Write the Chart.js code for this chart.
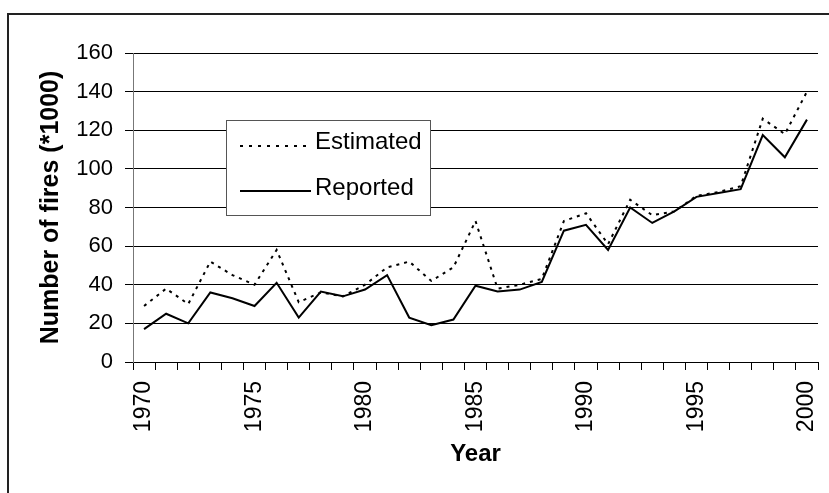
<!DOCTYPE html>
<html>
<head>
<meta charset="utf-8">
<script src="https://cdn.jsdelivr.net/npm/chart.js@4.4.1/dist/chart.umd.min.js"></script>
<style>
  body { margin: 0; background: #fff; }
  #wrap { position: relative; width: 829px; height: 493px; }
</style>
</head>
<body>
<div id="wrap"><canvas id="fireChart"></canvas></div>
<script>
const years = ['1970', '1971', '1972', '1973', '1974', '1975', '1976', '1977', '1978', '1979',
               '1980', '1981', '1982', '1983', '1984', '1985', '1986', '1987', '1988', '1989',
               '1990', '1991', '1992', '1993', '1994', '1995', '1996', '1997', '1998', '1999', '2000'];
const estimated = [29, 38, 30, 52, 45, 40, 58, 31, 36, 34, 40, 49, 52, 42, 49, 73, 38, 40, 43, 73,
                   77, 61, 84, 76, 78, 86, 88, 91, 126, 118, 140];
const reported = [17, 25, 20, 36, 33, 29, 41, 23, 36.5, 34, 37.5, 45, 23, 19, 22, 39.5, 36.5, 37.5, 41.5, 68,
                  71, 58, 80, 72, 78, 85.5, 87.5, 89.5, 117.5, 106, 125.5];
const shownYears = ['1970', '1975', '1980', '1985', '1990', '1995', '2000'];

const FONT = 'Liberation Sans, Arial, sans-serif';

// outer frame + legend box drawn on the canvas
const framePlugin = {
    id: 'frame',
    afterDraw(chart) {
        const c = chart.ctx;
        c.save();
        c.strokeStyle = '#222';
        c.lineWidth = 2;
        c.strokeRect(8, 14, 1000, 1000);

        // legend
        const x0 = 226, y0 = 120, w = 204, h = 95;
        c.fillStyle = '#fff';
        c.fillRect(x0, y0, w, h);
        c.strokeStyle = '#555';
        c.lineWidth = 1;
        c.strokeRect(x0 + 0.5, y0 + 0.5, w, h);

        c.strokeStyle = '#000';
        c.lineWidth = 2;
        c.setLineDash([3, 6]);
        c.beginPath(); c.moveTo(240, 146); c.lineTo(311, 146); c.stroke();
        c.setLineDash([]);
        c.beginPath(); c.moveTo(240, 191); c.lineTo(311, 191); c.stroke();

        c.fillStyle = '#000';
        c.font = '24px ' + FONT;
        c.textBaseline = 'middle';
        c.fillText('Estimated', 315, 142);
        c.fillText('Reported', 315, 188);
        c.restore();
    }
};

const ctx = document.getElementById('fireChart').getContext('2d');
const myChart = new Chart(ctx, {
    type: 'line',
    data: {
        labels: years,
        datasets: [{
            label: 'Estimated',
            data: estimated,
            borderColor: '#000',
            borderWidth: 2,
            borderDash: [3, 5],
            pointRadius: 0,
            tension: 0,
            fill: false
        }, {
            label: 'Reported',
            data: reported,
            borderColor: '#000',
            borderWidth: 2,
            pointRadius: 0,
            tension: 0,
            fill: false
        }]
    },
    options: {
        responsive: true,
        maintainAspectRatio: false,
        animation: false,
        layout: { padding: { top: 53, right: 11, left: 0, bottom: 0 } },
        plugins: {
            legend: { display: false },
            tooltip: { enabled: false }
        },
        scales: {
            x: {
                offset: true,
                grid: { offset: true, drawOnChartArea: false, drawTicks: true, tickLength: 8, color: '#000' },
                border: { color: '#000', width: 1 },
                ticks: {
                    autoSkip: false,
                    minRotation: 90,
                    maxRotation: 90,
                    padding: 11,
                    color: '#000',
                    font: { family: FONT, size: 23 },
                    callback: function (value) {
                        const lbl = this.getLabelForValue(value);
                        return shownYears.includes(lbl) ? lbl : '';
                    }
                },
                title: {
                    display: true,
                    text: 'Year',
                    color: '#000',
                    font: { family: FONT, size: 24, weight: 'bold' },
                    padding: { top: 0, bottom: 24 }
                },
                afterFit: (scale) => {
                    scale.height = 131;
                    scale.paddingLeft = 0;
                    scale.paddingRight = 0;
                }
            },
            y: {
                min: 0,
                max: 160,
                ticks: {
                    stepSize: 20,
                    padding: 12,
                    color: '#000',
                    font: { family: FONT, size: 22 }
                },
                grid: { color: '#000', tickLength: 8, lineWidth: 1 },
                border: { color: '#777', width: 1 },
                title: {
                    display: true,
                    text: 'Number of fires (*1000)',
                    color: '#000',
                    font: { family: FONT, size: 25, weight: 'bold' },
                    padding: { top: 36, bottom: 0 }
                },
                afterFit: (scale) => { scale.width = 133; }
            }
        }
    },
    plugins: [framePlugin]
});
</script>
</body>
</html>
